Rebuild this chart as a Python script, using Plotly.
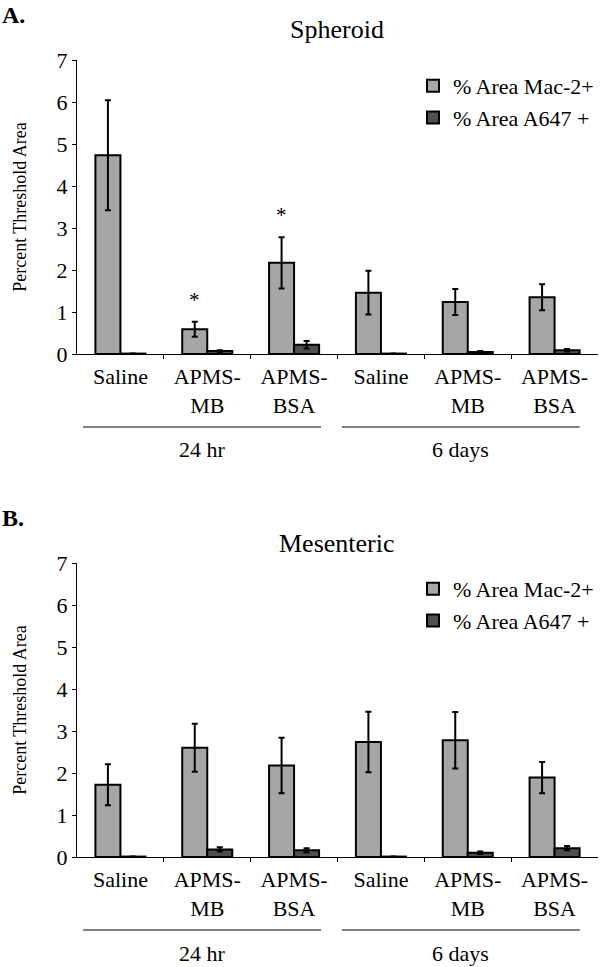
import plotly.graph_objects as go

# categories along the x axis (two time points x three treatments)
categories = ["Saline", "APMS-<br>MB", "APMS-<br>BSA", "Saline", "APMS-<br>MB", "APMS-<br>BSA"]
timepoints = ["24 hr", "6 days"]
series_names = ["% Area Mac-2+", "% Area A647 +"]

# panel A - spheroid
spheroid_mac = [4.73, 0.59, 2.17, 1.46, 1.24, 1.35]
spheroid_mac_err = [1.31, 0.18, 0.61, 0.52, 0.31, 0.31]
spheroid_a647 = [0.01, 0.07, 0.22, 0.01, 0.05, 0.09]
spheroid_a647_err = [0, 0.02, 0.09, 0, 0.02, 0.03]
spheroid_sig = [False, True, True, False, False, False]

# panel B - mesenteric
mesenteric_mac = [1.72, 2.60, 2.18, 2.74, 2.78, 1.89]
mesenteric_mac_err = [0.49, 0.57, 0.66, 0.72, 0.67, 0.37]
mesenteric_a647 = [0.01, 0.18, 0.16, 0.01, 0.10, 0.21]
mesenteric_a647_err = [0, 0.05, 0.05, 0, 0.03, 0.05]
mesenteric_sig = [False] * 6

W, H = 600, 967
FONT = "Liberation Serif"
MAC_COLOR = "#a6a6a6"
A647_COLOR = "#4f4f4f"
BAR_W = 0.288

xs = list(range(len(categories)))


def py(pixel):
    # pixel row -> paper fraction
    return 1 - pixel / H


panels = [
    dict(name="Spheroid", letter="A.", mac=spheroid_mac, mac_err=spheroid_mac_err,
         a647=spheroid_a647, a647_err=spheroid_a647_err, sig=spheroid_sig,
         top=60, bottom=354, title_y=29, letter_y=15, legend_y=65, line_y=427, group_y=450),
    dict(name="Mesenteric", letter="B.", mac=mesenteric_mac, mac_err=mesenteric_mac_err,
         a647=mesenteric_a647, a647_err=mesenteric_a647_err, sig=mesenteric_sig,
         top=563, bottom=857, title_y=543, letter_y=518, legend_y=568, line_y=930, group_y=953),
]

fig = go.Figure()
shapes = []
annotations = []

for p_i, p in enumerate(panels):
    sfx = "" if p_i == 0 else str(p_i + 1)
    xa, ya = "x" + sfx, "y" + sfx
    leg = "legend" + sfx

    fig.add_trace(go.Bar(
        x=xs, y=p["mac"], name=series_names[0], xaxis=xa, yaxis=ya,
        width=BAR_W, offset=-BAR_W, legend=leg, legendgroup=f"mac{p_i}",
        marker=dict(color=MAC_COLOR, line=dict(color="black", width=2)),
        error_y=dict(type="data", array=p["mac_err"], color="black", thickness=2, width=3),
    ))
    fig.add_trace(go.Bar(
        x=xs, y=p["a647"], name=series_names[1], xaxis=xa, yaxis=ya,
        width=BAR_W, offset=0, legend=leg, legendgroup=f"a647{p_i}",
        marker=dict(color=A647_COLOR, line=dict(color="black", width=2)),
        error_y=dict(type="data", array=p["a647_err"], color="black", thickness=2, width=3),
    ))

    # significance stars above the Mac-2 bars
    for i, s in enumerate(p["sig"]):
        if s:
            annotations.append(dict(
                x=xs[i] - BAR_W / 2, y=p["mac"][i] + p["mac_err"][i], xref=xa, yref=ya,
                text="*", showarrow=False, yanchor="bottom", yshift=8,
                font=dict(size=21, family=FONT, color="black"),
            ))

    dom_y = [py(p["bottom"]), py(p["top"])]
    fig.layout["xaxis" + sfx] = dict(
        domain=[77 / W, 598 / W], anchor=ya, range=[-0.5, 5.5],
        tickmode="array", tickvals=xs, ticktext=categories, ticks="",
        showline=True, linecolor="black", linewidth=1, showgrid=False, zeroline=False,
        ticklabelstandoff=3, tickfont=dict(size=22, family=FONT),
        minor=dict(tickmode="array", tickvals=[0.5, 1.5, 2.5, 3.5, 4.5], ticks="outside",
                   ticklen=4, tickcolor="black", showgrid=False),
    )
    fig.layout["yaxis" + sfx] = dict(
        domain=dom_y, anchor=xa, range=[0, 7], dtick=1,
        ticks="outside", ticklen=4, tickcolor="black", tickfont=dict(size=22, family=FONT),
        showline=True, linecolor="black", linewidth=1, showgrid=False, zeroline=False,
        title=dict(text="Percent Threshold Area", font=dict(size=18, family=FONT), standoff=25),
    )
    fig.layout[leg] = dict(
        x=413 / W, xanchor="left", y=py(p["legend_y"]), yanchor="top",
        font=dict(size=22, family=FONT), bgcolor="rgba(0,0,0,0)", tracegroupgap=0,
    )

    # time-point group lines and labels
    spans = [(-0.43, 2.31), (2.55, 5.29)]
    for (x0, x1), label in zip(spans, timepoints):
        shapes.append(dict(type="line", xref=xa, yref="paper", x0=x0, x1=x1,
                           y0=py(p["line_y"]), y1=py(p["line_y"]),
                           line=dict(color="black", width=1)))
        annotations.append(dict(x=(x0 + x1) / 2, y=py(p["group_y"]), xref=xa, yref="paper",
                                text=label, showarrow=False, yanchor="middle",
                                font=dict(size=22, family=FONT, color="black")))

    annotations.append(dict(x=337 / W, y=py(p["title_y"]), xref="paper", yref="paper",
                            text=p["name"], showarrow=False, yanchor="middle",
                            font=dict(size=26, family=FONT, color="black")))
    annotations.append(dict(x=0, y=py(p["letter_y"]), xref="paper", yref="paper",
                            text="<b>" + p["letter"] + "</b>", showarrow=False,
                            xanchor="left", yanchor="middle",
                            font=dict(size=24, family=FONT, color="black")))

fig.update_layout(
    width=W, height=H,
    margin=dict(l=0, r=0, t=0, b=0, autoexpand=False),
    paper_bgcolor="white", plot_bgcolor="white",
    font=dict(family=FONT, size=21, color="black"),
    showlegend=True,
    shapes=shapes, annotations=annotations,
)

# page body has a default 8px margin; drop it so the figure fills the window
fig.write_html("out.html", config={"displayModeBar": False},
               post_script="document.body.style.margin='0';")
